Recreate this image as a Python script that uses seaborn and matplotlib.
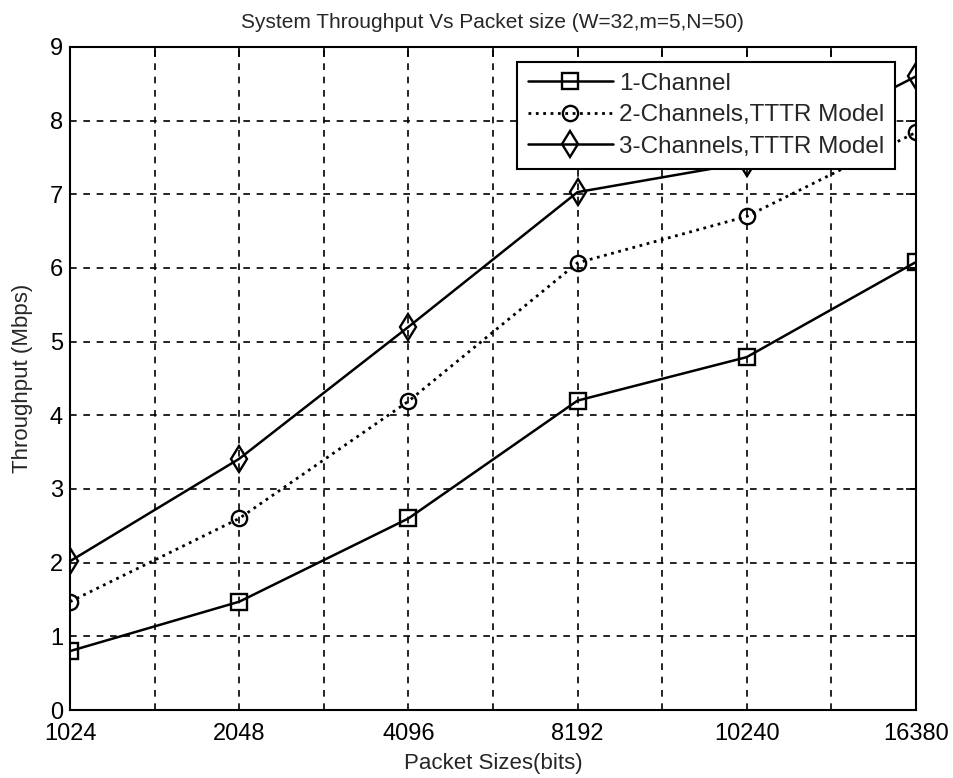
import numpy as np
import pandas as pd
import matplotlib
matplotlib.use("Agg")
import matplotlib.pyplot as plt
import seaborn as sns

packet_sizes = ["1024", "2048", "4096", "8192", "10240", "16380"]
one_channel = [0.80, 1.47, 2.60, 4.20, 4.79, 6.08]
two_channels = [1.47, 2.60, 4.19, 6.07, 6.70, 7.84]
three_channels = [2.02, 3.41, 5.20, 7.03, 7.43, 8.60]
series_names = ["1-Channel", "2-Channels,TTTR Model", "3-Channels,TTTR Model"]

sns.set_style("white")
plt.rcParams['font.family'] = ['Liberation Sans', 'DejaVu Sans']

fig = plt.figure(figsize=(9.54, 7.78), dpi=100)
ax = fig.add_axes([0.0734, 0.0874, 0.8866, 0.8522])

pos = np.arange(len(packet_sizes))
df = pd.DataFrame({"pos": pos, "s1": one_channel, "s2": two_channels, "s3": three_channels})

sns.lineplot(data=df, x="pos", y="s1", ax=ax, color="black", lw=1.8, marker="s",
             markersize=12, markerfacecolor="none", markeredgecolor="black",
             markeredgewidth=1.7, label=series_names[0])
sns.lineplot(data=df, x="pos", y="s2", ax=ax, color="black", lw=2.0, linestyle=":", marker="o",
             markersize=11, markerfacecolor="none", markeredgecolor="black",
             markeredgewidth=1.7, label=series_names[1])
sns.lineplot(data=df, x="pos", y="s3", ax=ax, color="black", lw=1.8, marker="d",
             markersize=13, markerfacecolor="none", markeredgecolor="black",
             markeredgewidth=1.7, label=series_names[2])

ax.set_xlim(0, len(packet_sizes) - 1)
ax.set_ylim(0, 9)
ax.set_xticks(pos)
ax.set_xticklabels(packet_sizes)
ax.set_xticks(np.arange(0.5, len(packet_sizes) - 1, 1.0), minor=True)
ax.set_yticks(np.arange(0, 10, 1))
ax.tick_params(axis="both", which="both", direction="in", top=True, right=True,
               length=7, width=1.2, labelsize=17, colors="black")
ax.tick_params(axis="x", pad=9)
ax.tick_params(axis="y", pad=5)
ax.grid(True, which="both", axis="x", linestyle=(0, (4, 4)), color="black", lw=1.2)
ax.grid(True, which="major", axis="y", linestyle=(0, (4, 4)), color="black", lw=1.2)
for sp in ax.spines.values():
    sp.set_color("black")
    sp.set_linewidth(1.5)

ax.set_xlabel("Packet Sizes(bits)", fontsize=16, labelpad=6)
ax.set_ylabel("Throughput (Mbps)", fontsize=16, labelpad=12)
ax.set_title("System Throughput Vs Packet size (W=32,m=5,N=50)", fontsize=15, pad=14)

leg = ax.legend(loc="upper left", bbox_to_anchor=(0.528, 0.978), fontsize=17.5,
                frameon=True, fancybox=False, edgecolor="black", framealpha=1,
                handlelength=3.5, borderpad=0.45, labelspacing=0.4, handletextpad=0.25,
                borderaxespad=0)
leg.get_frame().set_linewidth(1.5)

fig.savefig("out.png", dpi=100, facecolor="white")
